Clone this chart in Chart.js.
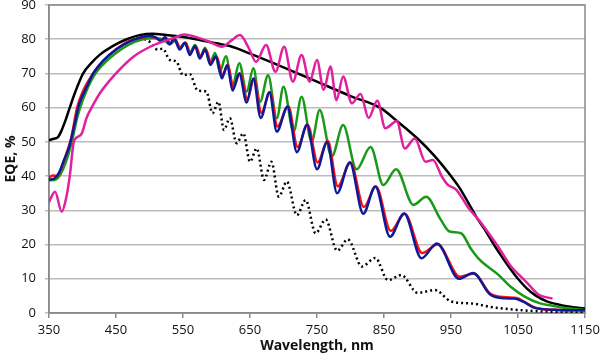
<!DOCTYPE html>
<html><head><meta charset="utf-8">
<script src="https://cdn.jsdelivr.net/npm/chart.js@4"></script>
<style>html,body{margin:0;padding:0;background:#fff}</style>
</head><body>
<canvas id="c" width="600" height="357" style="display:block;width:600px;height:357px"></canvas>
<script>
const xTicks = [350,450,550,650,750,850,950,1050,1150];
const yTicks = [0,10,20,30,40,50,60,70,80,90];

const blackSolid = [[350,50.5],[357,50.9],[363,51.3],[368,53],[375,56.5],[381,60],[390,65],[401,70],[413,73],[426,75.5],[445,78],[466,80],[485,81.2],[505,81.6],[525,81.2],[545,80.8],[575,79.8],[600,78.8],[620,78],[650,75.8],[700,71.8],[750,67.6],[800,63.4],[844,60],[870,56],[900,51],[925,46],[950,40],[963,36.5],[975,32.5],[988,28],[1000,24.5],[1013,20.3],[1025,16.7],[1040,12.5],[1050,10],[1063,7.2],[1075,5.3],[1093,3.4],[1110,2.5],[1125,1.9],[1150,1.3]];

const magenta = [[350,32.5],[359,35.4],[369,29.6],[375,33],[381,40],[387,50],[393,51.5],[399,52.5],[406,57],[415,60.5],[426,64.2],[450,70],[476,74.9],[501,77.8],[520,79.3],[535,80.3],[552,81.4],[570,80.6],[590,79.2],[608,77.8],[622,79.6],[635,81.2],[648,77.5],[659,73.4],[674,78.3],[688,70.5],[701,77.8],[714,67.6],[727,75.4],[739,67.6],[750,73.9],[760,65.2],[770,72],[779,62.2],[789,69.1],[802,61.3],[815,64],[827,57],[840,62],[852,54],[869,56],[881,48.1],[896,51],[912,44.2],[923,44.7],[936,40],[945,37.5],[958,36],[975,31],[990,27.5],[1000,25],[1020,19.5],[1040,13.5],[1055,10.5],[1065,8.5],[1080,5.5],[1090,4.7],[1100,4.3]];

const green = [[350,38.8],[360,39],[367,40.5],[375,44],[384,50],[392,57],[400,62],[416,69],[430,72.5],[450,76],[470,78.5],[490,80],[505,80.3],[520,80],[530,78.5],[538,79.5],[545,77.5],[553,79],[560,76],[568,78.3],[575,74.5],[583,77.5],[590,73],[598,76],[605,70.5],[614,75],[624,66.6],[634,73],[645,64.7],[655,71.5],[665,61.7],[677,69.5],[690,56.9],[700,66.1],[715,53],[727,63.2],[742,50.1],[754,59.3],[772,45.7],[789,54.9],[809,42],[830,48.5],[849,37.4],[868,42],[894,31.6],[913,34],[934,27.5],[948,23.8],[965,23.3],[980,18.7],[993,15.5],[1020,11.3],[1040,7.5],[1060,4.8],[1083,2.8],[1100,2.2],[1123,1.4],[1150,0.9]];

const red = [[350,39.6],[356,40.2],[362,40],[368,42],[375,46],[383,51],[392,60],[400,64.5],[416,70],[430,73.5],[450,77],[470,79.5],[490,80.5],[500,80.8],[510,80.3],[518,79.5],[524,80.4],[531,78.8],[538,80],[546,77.5],[554,79],[561,76],[569,78],[576,75],[584,77],[592,73.2],[600,75],[609,69.5],[617,72.5],[625,66],[635,70],[646,62.5],[656,68.5],[667,58.5],[680,64.5],[691,54.5],[707,60.5],[721,48.5],[736,55],[751,44],[766,50.3],[781,37],[800,44],[820,31],[838,37],[860,24],[881,29],[907,17.5],[930,20],[963,10.6],[984,11.5],[1009,5.6],[1032,4.6],[1048,4.4],[1060,3.2],[1078,1.4],[1110,0.9],[1150,0.8]];

const blue = [[350,39],[358,39.3],[365,41],[372,44.5],[380,48.5],[388,55],[395,61],[405,65.5],[416,70],[430,73.5],[450,77],[470,79.3],[490,80.7],[500,81],[510,80.5],[517,79.5],[523,80.6],[530,78.5],[537,80.2],[545,77],[553,79],[560,75.4],[568,78],[575,74.4],[583,77],[591,72.5],[599,75],[608,68.6],[616,72.5],[624,65],[634,70],[645,61.5],[655,68.5],[666,57],[679,64.5],[690,53],[706,60.3],[720,47],[735,55],[750,42],[765,50],[780,35],[799,44],[819,29],[837,37],[859,22.3],[880,29.1],[906,16],[929,20.3],[962,10],[983,11.7],[1008,5.5],[1030,4.3],[1045,4.2],[1058,3.3],[1075,1.5],[1110,0.9],[1150,0.8]];

const dotted = [[485,80.5],[500,79.3],[512,77],[520,77.2],[530,74],[540,73.5],[550,69.5],[560,69.8],[572,65],[585,64.7],[594,58.4],[603,61.7],[611,53.5],[620,56.9],[630,49.6],[640,52.5],[650,44.2],[660,48.1],[671,38.9],[682,44.2],[693,34],[705,38.4],[720,28.6],[733,33],[748,23.3],[763,27.3],[780,18.2],[796,21.5],[817,13.6],[837,16.1],[856,9.6],[876,11.1],[900,5.9],[926,6.7],[950,3.4],[985,2.7],[1008,1.8],[1050,0.9],[1100,0.4],[1150,0.4]];

const toXY = a => a.map(p => ({x:p[0], y:p[1]}));
const line = (data, color, extra) => Object.assign({
  data: toXY(data), borderColor: color, borderWidth: 2.5, pointRadius: 0,
  fill: false, cubicInterpolationMode: 'monotone', borderCapStyle: 'round', borderJoinStyle: 'round'
}, extra || {});

const frame = {
  id: 'frame',
  beforeDatasetsDraw(chart) {
    const {ctx, chartArea: a} = chart;
    ctx.save();
    ctx.strokeStyle = '#8a8a8a';
    ctx.lineWidth = 1.5;
    ctx.strokeRect(a.left, a.top, a.right - a.left, a.bottom - a.top);
    ctx.restore();
  }
};

const tickFont = {family: "'Open Sans', 'Noto Sans', sans-serif", size: 13};
const titleFont = {family: "'Open Sans', 'Noto Sans', sans-serif", size: 14, weight: 'bold'};

new Chart(document.getElementById('c'), {
  type: 'line',
  data: {
    datasets: [
      line(magenta, '#e0209e'),
      line(blue, '#0c1a9a'),
      line(red, '#ff1010'),
      line(green, '#189a18'),
      line(blackSolid, '#000000'),
      line(dotted, '#000000', {borderDash: [2, 3], borderCapStyle: 'butt', borderWidth: 2.5})
    ]
  },
  options: {
    responsive: false,
    animation: false,
    devicePixelRatio: 1,
    layout: {padding: {top: 5, right: 15, left: 0, bottom: 0}},
    plugins: {legend: {display: false}, tooltip: {enabled: false}},
    scales: {
      x: {
        type: 'linear', min: 350, max: 1150,
        afterBuildTicks: s => { s.ticks = xTicks.map(v => ({value: v})); },
        afterFit: s => { s.height = 44; s.paddingLeft = 0; s.paddingRight = 0; },
        ticks: {font: tickFont, color: '#111', padding: 4, maxRotation: 0, autoSkip: false, callback: v => String(v)},
        grid: {drawOnChartArea: false, tickLength: 5, color: '#8a8a8a', lineWidth: 1.5},
        border: {color: '#8a8a8a', width: 1.5},
        title: {display: true, text: 'Wavelength, nm', font: titleFont, color: '#111', padding: {top: 0, bottom: 3}}
      },
      y: {
        type: 'linear', min: 0, max: 90,
        afterBuildTicks: s => { s.ticks = yTicks.map(v => ({value: v})); },
        afterFit: s => { s.width = 49; s.paddingTop = 0; s.paddingBottom = 0; },
        ticks: {font: tickFont, color: '#111', padding: 9, callback: v => String(v)},
        grid: {color: '#bcbcbc', lineWidth: 1.5, tickLength: 4},
        border: {color: '#8a8a8a', width: 1.5},
        title: {display: true, text: 'EQE, %', font: titleFont, color: '#111', padding: {top: 3, bottom: 0}}
      }
    }
  },
  plugins: [frame]
});
</script>
</body></html>
